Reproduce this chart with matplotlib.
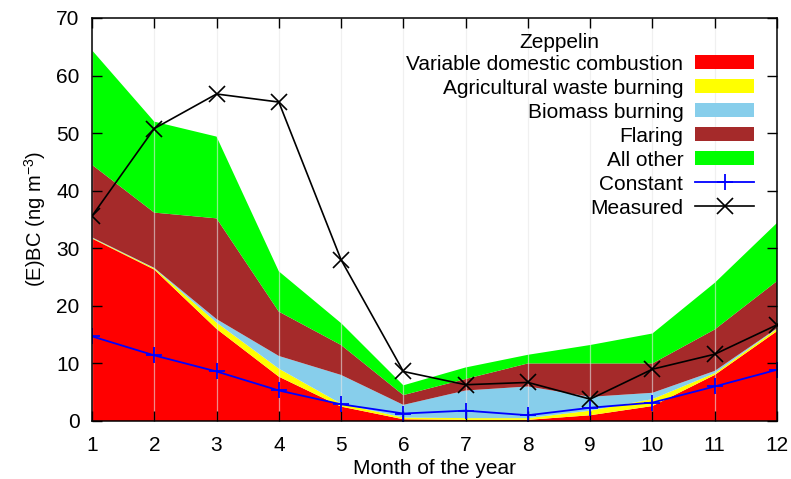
import matplotlib
matplotlib.use("Agg")
import matplotlib.pyplot as plt
from matplotlib.patches import Patch
from matplotlib.lines import Line2D

plt.rcParams['font.family'] = ['Liberation Sans', 'DejaVu Sans']
plt.rcParams['mathtext.fontset'] = 'custom'
plt.rcParams['mathtext.rm'] = 'Liberation Sans'
plt.rcParams['mathtext.it'] = 'Liberation Sans'

# Monthly (E)BC contributions at Zeppelin, ng m^-3
months = [1, 2, 3, 4, 5, 6, 7, 8, 9, 10, 11, 12]
domestic = [31.7, 26.3, 16.0, 7.7, 2.5, 0.3, 0.2, 0.2, 1.0, 2.6, 8.0, 15.6]
agri_waste = [0.1, 0.2, 1.1, 1.4, 0.5, 0.3, 0.3, 0.3, 0.8, 1.2, 0.3, 0.4]
biomass = [0.1, 0.1, 0.6, 2.2, 5.0, 2.2, 4.8, 5.5, 2.4, 1.1, 0.4, 0.1]
flaring = [12.6, 9.6, 17.5, 7.7, 5.2, 1.7, 2.0, 4.0, 5.8, 5.1, 7.2, 8.2]
all_other = [19.9, 15.8, 14.2, 7.0, 3.8, 1.7, 2.0, 1.5, 3.2, 5.2, 8.1, 10.1]
constant = [14.7, 11.4, 8.6, 5.3, 2.9, 1.3, 1.8, 1.0, 2.3, 3.2, 6.0, 8.9]
measured = [35.6, 50.8, 56.8, 55.4, 28.0, 8.6, 6.3, 6.7, 3.8, 9.0, 11.6, 16.7]

labels = ["Variable domestic combustion", "Agricultural waste burning",
          "Biomass burning", "Flaring", "All other"]
colors = ["#ff0000", "#ffff00", "#87ceeb", "#a52a2a", "#00ff00"]

FS = 15

fig = plt.figure(figsize=(7.91, 4.79), dpi=100)
ax = fig.add_axes([92 / 791, 58 / 479, 685 / 791, 403 / 479])

ax.stackplot(months, domestic, agri_waste, biomass, flaring, all_other,
             colors=colors, linewidth=0, zorder=1)
ax.plot(months, constant, color="#0000ff", lw=1.3, marker="+", ms=11,
        mew=1.3, zorder=3)
ax.plot(months, measured, color="black", lw=1.2, marker="x", ms=12,
        mew=1.2, zorder=3)

ax.set_axisbelow(False)
ax.grid(axis='x', color='#e6e6e6', lw=0.9, alpha=0.6)
ax.grid(axis='y', visible=False)

ax.set_xlim(1, 12)
ax.set_ylim(0, 70)
ax.set_xticks(months)
ax.set_yticks(range(0, 71, 10))
ax.tick_params(direction='in', length=7, width=1, top=True, right=True,
               labelsize=FS, colors='black')
ax.tick_params(axis='x', pad=11)
ax.tick_params(axis='y', pad=9)
for s in ax.spines.values():
    s.set_linewidth(1.1)
    s.set_zorder(4)

ax.set_xlabel("Month of the year", fontsize=FS, labelpad=3)
ax.set_ylabel(r"(E)BC (ng m$^{-3}$)", fontsize=14.5, labelpad=6)

handles = [Patch(facecolor=c, edgecolor='none') for c in colors]
handles += [Line2D([], [], color="#0000ff", lw=1.3, marker="+", ms=11, mew=1.3),
            Line2D([], [], color="black", lw=1.2, marker="x", ms=12, mew=1.2)]
leg = ax.legend(handles, labels + ["Constant", "Measured"],
                loc='upper right', bbox_to_anchor=(0.966, 0.909),
                markerfirst=False, frameon=False, fontsize=FS,
                handlelength=2.8, handleheight=0.67, handletextpad=0.58,
                labelspacing=0.24, borderpad=0, borderaxespad=0)
ax.text(0.682, 0.940, "Zeppelin", transform=ax.transAxes, ha='center',
        va='center', fontsize=FS)

fig.savefig("out.png", dpi=100)
